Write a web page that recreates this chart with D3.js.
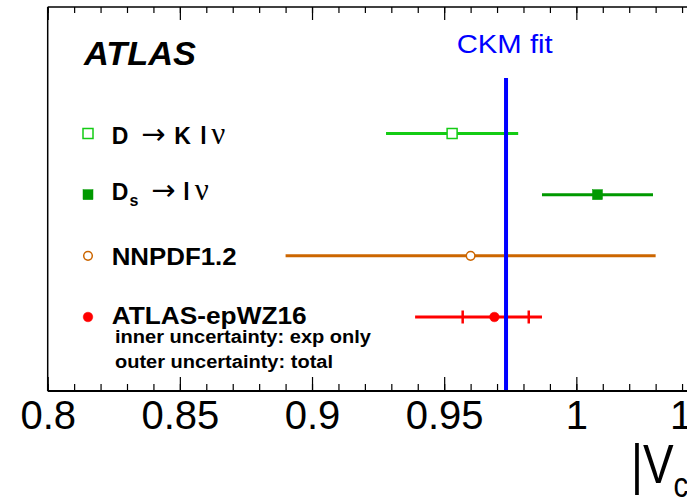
<!DOCTYPE html>
<html>
<head>
<meta charset="utf-8">
<script src="https://cdn.jsdelivr.net/npm/d3@7/dist/d3.min.js"></script>
<style>
  html, body { margin: 0; padding: 0; background: #fff; overflow: hidden; }
  svg { display: block; font-family: "Liberation Sans", Arial, Helvetica, sans-serif; }
</style>
</head>
<body>
<svg id="chart" width="687" height="497"></svg>
<script>
// |Vcs| determinations compared with the CKM fit
const categories = ["D → K l ν", "Ds → l ν", "NNPDF1.2", "ATLAS-epWZ16"];
const central    = [0.953, 1.008, 0.960, 0.969];
const totalLow   = [0.928, 0.987, 0.890, 0.939];
const totalHigh  = [0.978, 1.029, 1.030, 0.987];
const innerLow   = [null, null, null, 0.957];
const innerHigh  = [null, null, null, 0.982];
const ckmFit = 0.9734;
const majorTicks = [0.8, 0.85, 0.9, 0.95, 1.0, 1.05];
const tickLabels = ["0.8", "0.85", "0.9", "0.95", "1", "1.05"];
const minorTicks = d3.range(0, 27).map(i => +(0.8 + i * 0.01).toFixed(2));

// marker styles for each row
const styles = [
  { color: "#14cc14", shape: "square", open: true },
  { color: "#009900", shape: "square", open: false },
  { color: "#cc6600", shape: "circle", open: true },
  { color: "#ff0000", shape: "circle", open: false }
];

const svg = d3.select("#chart");
const frame = { left: 47.7, top: 7, bottom: 391, right: 708.5 };

const x = d3.scaleLinear().domain([0.8, 1.05]).range([frame.left, frame.right]);
const y = d3.scalePoint().domain(categories).range([133.5, 317]);

// error bars (total), with small vertical ticks for the inner uncertainty
const gBars = svg.append("g");
categories.forEach((c, i) => {
  gBars.append("line")
    .attr("x1", x(totalLow[i])).attr("x2", x(totalHigh[i]))
    .attr("y1", y(c)).attr("y2", y(c))
    .attr("stroke", styles[i].color).attr("stroke-width", 3);
  if (innerLow[i] != null) {
    [innerLow[i], innerHigh[i]].forEach(v => {
      gBars.append("line")
        .attr("x1", x(v)).attr("x2", x(v))
        .attr("y1", y(c) - 6.5).attr("y2", y(c) + 6.5)
        .attr("stroke", styles[i].color).attr("stroke-width", 2.5);
    });
  }
});

// CKM fit reference line
svg.append("line")
  .attr("x1", x(ckmFit)).attr("x2", x(ckmFit))
  .attr("y1", 78).attr("y2", frame.bottom)
  .attr("stroke", "#0000ff").attr("stroke-width", 4);

svg.append("text")
  .attr("x", 456.7).attr("y", 53.3)
  .attr("font-size", 26).attr("fill", "#0000ff")
  .attr("textLength", 96).attr("lengthAdjust", "spacingAndGlyphs")
  .text("CKM fit");

// markers: on the bars and in the legend column
function marker(g, cx, cy, st) {
  if (st.shape === "square") {
    g.append("rect")
      .attr("x", cx - 5).attr("y", cy - 5).attr("width", 10).attr("height", 10)
      .attr("fill", st.open ? "#fff" : st.color)
      .attr("stroke", st.color).attr("stroke-width", st.open ? 1.5 : 0.5);
  } else {
    g.append("circle")
      .attr("cx", cx).attr("cy", cy).attr("r", st.open ? 4.3 : 4.8)
      .attr("fill", st.open ? "#fff" : st.color)
      .attr("stroke", st.color).attr("stroke-width", st.open ? 1.5 : 0.5);
  }
}
const gMarks = svg.append("g");
categories.forEach((c, i) => {
  marker(gMarks, x(central[i]), y(c), styles[i]);
  marker(gMarks, 88, y(c), styles[i]);
});

// legend labels
const labelX = 111.7;
const baselineOffset = [10, 5, 9, 7];
const bold = { "font-weight": "bold" };
const arrowStyle = { "font-family": "DejaVu Sans, sans-serif", "font-size": 29, "font-weight": "normal" };
const nuStyle = { "font-family": "Liberation Serif, DejaVu Serif, serif", "font-size": 31, "font-weight": "normal" };
function part(t, txt, xp, opts) {
  const s = t.append("tspan").attr("x", xp).text(txt);
  Object.entries(opts || {}).forEach(([k, v]) => s.attr(k, v));
  return s;
}
// row 1: D -> K l nu
{
  const t = svg.append("text").attr("y", y(categories[0]) + baselineOffset[0]).attr("font-size", 23);
  part(t, "D", labelX, bold);
  part(t, "→", labelX + 29.5, arrowStyle);
  part(t, "K", labelX + 62.5, bold);
  part(t, "l", labelX + 88.5, bold);
  part(t, "ν", labelX + 99.5, nuStyle);
}
// row 2: Ds -> l nu
{
  const by = y(categories[1]) + baselineOffset[1];
  const t = svg.append("text").attr("y", by).attr("font-size", 23);
  part(t, "D", labelX, bold);
  part(t, "s", labelX + 17.8, { "font-weight": "bold", "font-size": 16, dy: 6 });
  part(t, "→", labelX + 39.5, Object.assign({ dy: -6 }, arrowStyle));
  part(t, "l", labelX + 71.5, bold);
  part(t, "ν", labelX + 83, nuStyle);
}
// rows 3 and 4
[2, 3].forEach(i => {
  svg.append("text")
    .attr("x", labelX).attr("y", y(categories[i]) + baselineOffset[i])
    .attr("font-size", 24).attr("font-weight", "bold")
    .attr("textLength", i === 2 ? 125 : 195).attr("lengthAdjust", "spacingAndGlyphs")
    .text(categories[i]);
});
svg.append("text")
  .attr("x", 115).attr("y", 343)
  .attr("font-size", 17.5).attr("font-weight", "bold")
  .attr("textLength", 256).attr("lengthAdjust", "spacingAndGlyphs")
  .text("inner uncertainty: exp only");
svg.append("text")
  .attr("x", 115).attr("y", 368)
  .attr("font-size", 17.5).attr("font-weight", "bold")
  .attr("textLength", 218).attr("lengthAdjust", "spacingAndGlyphs")
  .text("outer uncertainty: total");

// ATLAS label
svg.append("text")
  .attr("x", 84).attr("y", 65)
  .attr("font-size", 34).attr("font-weight", "bold").attr("font-style", "italic")
  .attr("textLength", 112).attr("lengthAdjust", "spacingAndGlyphs")
  .text("ATLAS");

// axes: ticks on bottom and top edges
const fmt = d => tickLabels[majorTicks.findIndex(m => Math.abs(m - d) < 1e-9)];
const gBottom = svg.append("g").attr("transform", `translate(0,${frame.bottom})`);
gBottom.call(d3.axisBottom(x).tickValues(minorTicks).tickSize(-7).tickFormat(""));
gBottom.append("g").call(d3.axisBottom(x).tickValues(majorTicks).tickSize(-14).tickPadding(0).tickFormat(fmt));
gBottom.selectAll(".domain").remove();
gBottom.selectAll("line").attr("stroke", "#000").attr("stroke-width", 1.2);
gBottom.selectAll("text")
  .attr("font-size", 40).attr("fill", "#000")
  .attr("font-family", "Liberation Sans, Arial, sans-serif")
  .attr("y", 38).attr("dy", 0);

const gTop = svg.append("g").attr("transform", `translate(0,${frame.top})`);
gTop.call(d3.axisTop(x).tickValues(minorTicks).tickSize(-6).tickFormat(""));
gTop.append("g").call(d3.axisTop(x).tickValues(majorTicks).tickSize(-13).tickFormat(""));
gTop.selectAll(".domain").remove();
gTop.selectAll("line").attr("stroke", "#000").attr("stroke-width", 1.2);

// frame
svg.append("line").attr("x1", frame.left).attr("x2", 700).attr("y1", frame.top).attr("y2", frame.top)
  .attr("stroke", "#000").attr("stroke-width", 1.5);
svg.append("line").attr("x1", frame.left).attr("x2", 700).attr("y1", frame.bottom).attr("y2", frame.bottom)
  .attr("stroke", "#000").attr("stroke-width", 2);
svg.append("line").attr("x1", frame.left).attr("x2", frame.left).attr("y1", frame.top).attr("y2", frame.bottom)
  .attr("stroke", "#000").attr("stroke-width", 1.5);

// axis title
{
  const t = svg.append("text").attr("transform", "translate(631,483) scale(0.82,1)")
    .attr("font-size", 56).attr("font-family", "Liberation Sans, Arial, sans-serif");
  t.append("tspan").text("|V");
  t.append("tspan").attr("font-size", 36).attr("dy", 14).text("cs");
  t.append("tspan").attr("dy", -14).text("|");
}
</script>
</body>
</html>
